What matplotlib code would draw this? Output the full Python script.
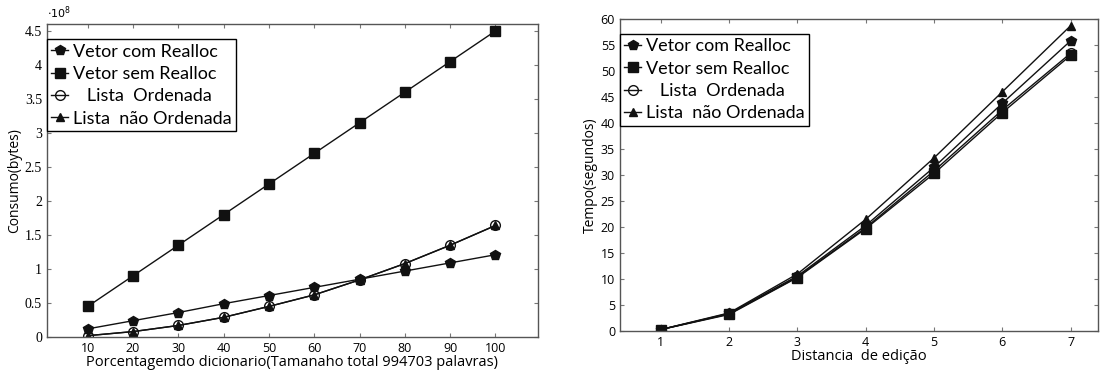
import matplotlib.pyplot as plt

# consumo de memoria (em unidades de 1e8 bytes)
porcentagem = [10, 20, 30, 40, 50, 60, 70, 80, 90, 100]
mem_com_realloc = [0.12, 0.24, 0.36, 0.49, 0.61, 0.73, 0.85, 0.97, 1.09, 1.21]
mem_sem_realloc = [0.45, 0.90, 1.35, 1.80, 2.25, 2.70, 3.15, 3.60, 4.05, 4.50]
mem_lista_ord = [0.02, 0.08, 0.17, 0.29, 0.45, 0.62, 0.84, 1.08, 1.35, 1.64]
mem_lista_nao_ord = [0.02, 0.08, 0.17, 0.29, 0.45, 0.62, 0.84, 1.08, 1.35, 1.64]

# tempo de busca (segundos)
distancia = [1, 2, 3, 4, 5, 6, 7]
t_com_realloc = [0.3, 3.4, 10.6, 20.3, 31.5, 43.8, 55.8]
t_sem_realloc = [0.3, 3.2, 10.3, 19.7, 30.3, 42.0, 53.0]
t_lista_ord = [0.3, 3.3, 10.4, 19.9, 30.8, 42.5, 53.4]
t_lista_nao_ord = [0.3, 3.5, 11.0, 21.5, 33.3, 46.0, 58.7]

labels = ["Vetor com Realloc", "Vetor sem Realloc", "   Lista  Ordenada", "Lista  não Ordenada"]

plt.rcParams['font.family'] = ['Open Sans', 'DejaVu Sans']

fig = plt.figure(figsize=(11, 3.72), dpi=100)
ax1 = fig.add_axes([0.0427, 0.094, 0.446, 0.841])
ax2 = fig.add_axes([0.5636, 0.110, 0.4345, 0.839])


def desenha(ax, x, series):
    estilos = [
        dict(marker='p', markersize=7, markerfacecolor='#111111'),
        dict(marker='s', markersize=7, markerfacecolor='#111111'),
        dict(marker='o', markersize=7, markerfacecolor='none'),
        dict(marker='^', markersize=6, markerfacecolor='#111111'),
    ]
    for ys, lab, st in zip(series, labels, estilos):
        ax.plot(x, ys, color='#111111', lw=1.0, markeredgecolor='#111111',
                markeredgewidth=1.0, label=lab, **st)
    for s in ax.spines.values():
        s.set_color('#555555')
        s.set_linewidth(1.0)
    ax.tick_params(direction='in', top=True, right=True, length=3,
                   color='#777777', labelsize=9)
    leg = ax.legend(loc='upper left', bbox_to_anchor=(0, 0.952), borderaxespad=0,
                    prop={'family': ['Lato', 'DejaVu Sans'], 'size': 13},
                    handlelength=0.9, handletextpad=0.3,
                    labelspacing=0.35, borderpad=0.25, fancybox=False,
                    framealpha=1, edgecolor='black')
    leg.get_frame().set_linewidth(1.0)


desenha(ax1, porcentagem, [mem_com_realloc, mem_sem_realloc, mem_lista_ord, mem_lista_nao_ord])
ax1.set_xlim(1, 109.3)
ax1.set_ylim(0, 4.6)
ax1.set_xticks(porcentagem)
ax1.set_yticks([0, 0.5, 1, 1.5, 2, 2.5, 3, 3.5, 4, 4.5])
ax1.set_yticklabels(["0", "0.5", "1", "1.5", "2", "2.5", "3", "3.5", "4", "4.5"],
                    family='Liberation Serif', fontsize=10)
ax1.set_ylabel("Consumo(bytes)", fontsize=10, labelpad=2)
ax1.set_xlabel("Porcentagemdo dicionario(Tamanaho total 994703 palavras)", fontsize=10.5, labelpad=0)
ax1.text(0.0, 1.01, r"$\cdot10^8$", transform=ax1.transAxes, fontsize=8,
         family='Liberation Serif', va='bottom', ha='left')

desenha(ax2, distancia, [t_com_realloc, t_sem_realloc, t_lista_ord, t_lista_nao_ord])
ax2.set_xlim(0.4, 7.4)
ax2.set_ylim(0, 60)
ax2.set_xticks(distancia)
ax2.set_yticks(range(0, 61, 5))
ax2.set_ylabel("Tempo(segundos)", fontsize=10, labelpad=2)
ax2.set_xlabel("Distancia  de edição", fontsize=10.5, labelpad=0)

plt.savefig("out.png", dpi=100)
